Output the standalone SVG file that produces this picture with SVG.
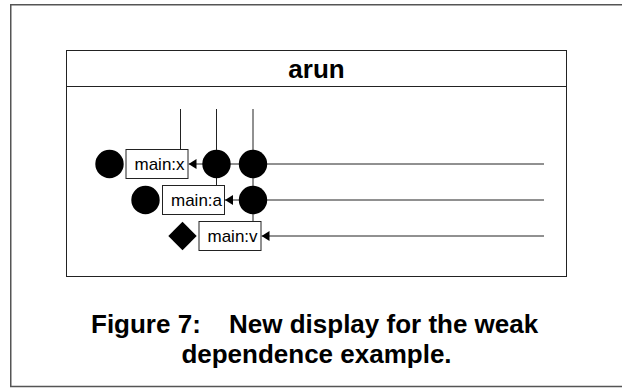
<svg xmlns="http://www.w3.org/2000/svg" width="622" height="388" viewBox="0 0 622 388">
<style>
.frame{fill:none;stroke:#555;stroke-width:1.5}
.box{fill:#fff;stroke:#222;stroke-width:1}
.ln{fill:none;stroke:#222;stroke-width:1}
.lbl{font-family:"Liberation Sans",Arial,sans-serif;font-size:17px;fill:#000}
.title{font-family:"Liberation Sans",Arial,sans-serif;font-size:26px;font-weight:bold;fill:#000}
.dot{fill:#000}
</style>
<defs>
<marker id="arr" viewBox="0 0 8 10" refX="8" refY="5" markerWidth="8" markerHeight="10" markerUnits="userSpaceOnUse" orient="auto">
<path d="M0,0 L8,5 L0,10 Z" fill="#000"/>
</marker>
</defs>
<rect width="622" height="388" fill="#fff"/>
<path class="frame" d="M640,4.75 H10.75 V386.5 H640"/>
<g id="arun">
<rect class="box" x="66.5" y="50.5" width="500" height="226"/>
<line class="ln" x1="66.5" y1="86.5" x2="566.5" y2="86.5"/>
<text class="title" x="316.5" y="77.5" text-anchor="middle">arun</text>
</g>
<g id="connectors">
<line class="ln" x1="180.5" y1="109" x2="180.5" y2="149.5"/>
<line class="ln" x1="216.5" y1="109" x2="216.5" y2="185.5"/>
<line class="ln" x1="253" y1="109" x2="253" y2="221.5"/>
<line class="ln" x1="544" y1="164" x2="188.5" y2="164" marker-end="url(#arr)"/>
<line class="ln" x1="544" y1="200" x2="225" y2="200" marker-end="url(#arr)"/>
<line class="ln" x1="544" y1="236" x2="261.5" y2="236" marker-end="url(#arr)"/>
</g>
<g id="main-x">
<circle class="dot" cx="109.5" cy="164" r="14.2"/>
<rect class="box" x="126" y="149.5" width="62" height="29"/>
<text class="lbl" x="134.5" y="170">main:x</text>
</g>
<g id="main-a">
<circle class="dot" cx="145.5" cy="200" r="14.2"/>
<rect class="box" x="162.5" y="185.5" width="62" height="29"/>
<text class="lbl" x="171" y="206">main:a</text>
</g>
<g id="main-v">
<path class="dot" d="M182.5,221.8 L196.7,236 L182.5,250.2 L168.3,236 Z"/>
<rect class="box" x="199" y="221.5" width="62" height="29"/>
<text class="lbl" x="207.5" y="242">main:v</text>
</g>
<g id="dots">
<circle class="dot" cx="216.5" cy="164" r="14.2"/>
<circle class="dot" cx="253" cy="164" r="14.2"/>
<circle class="dot" cx="253" cy="200" r="14.2"/>
</g>
<g id="caption">
<text class="title" x="91" y="333">Figure 7:</text>
<text class="title" x="229" y="333">New display for the weak</text>
<text class="title" x="316.5" y="363" text-anchor="middle">dependence example.</text>
</g>
</svg>
